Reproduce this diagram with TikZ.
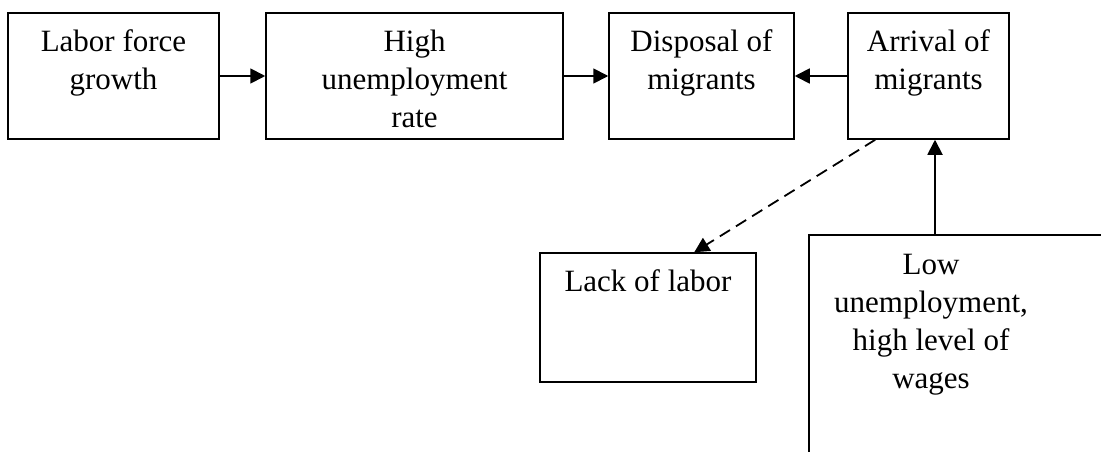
\documentclass[tikz,border=0pt]{standalone}
\usepackage{fontspec}
\setmainfont{Liberation Serif}
\usetikzlibrary{arrows.meta,calc}
\tikzset{
  box/.style={draw, line width=1.5pt, inner sep=0pt, rectangle},
  lbl/.style={anchor=base, align=flush center, text width=250pt, inner sep=0pt,
              font=\fontsize{31}{38}\selectfont},
  arr/.style={line width=1.8pt, -{Triangle[length=15pt,width=15pt]}},
  dasharr/.style={arr, dash pattern=on 12pt off 7pt}
}
\begin{document}
\begin{tikzpicture}[x=1pt,y=-1pt]
\useasboundingbox (0,0) rectangle (1101,452);
\clip (0,0) rectangle (1101,452);
% boxes
\node[box, minimum width=211pt, minimum height=126pt] (lab) at (113.5,76) {};
\node[box, minimum width=297pt, minimum height=126pt] (high) at (414.5,76) {};
\node[box, minimum width=185pt, minimum height=126pt] (disp) at (701.5,76) {};
\node[box, minimum width=161pt, minimum height=126pt] (arrv) at (928.5,76) {};
\node[box, minimum width=216pt, minimum height=129pt] (lack) at (648,317.5) {};
\node[box, minimum width=360pt, minimum height=265pt] (low) at (989,367.5) {};
% texts
\node[lbl] (tlab) at ($(lab.north)+(0,39)$) {Labor force\\growth};
\node[lbl] (thigh) at ($(high.north)+(0,39)$) {High\\unemployment\\rate};
\node[lbl] (tdisp) at ($(disp.north)+(0,39)$) {Disposal of\\migrants};
\node[lbl] (tarrv) at ($(arrv.north)+(0,39)$) {Arrival of\\migrants};
\node[lbl] (tlack) at ($(lack.north)+(0,39)$) {Lack of labor};
\coordinate (lowtxt) at (931,274);
\node[lbl] (tlow) at (lowtxt) {Low\\unemployment,\\high level of\\wages};
% connectors
\draw[arr] (lab.east) -- (high.west);
\draw[arr] (high.east) -- (disp.west);
\draw[arr] (arrv.west) -- (disp.east);
\draw[dasharr] ($(arrv.south west)+(28,0)$) -- ($(lack.north west)+(155,0)$);
\coordinate (vx) at (935,0);
\draw[arr] (low.north -| vx) -- (arrv.south -| vx);
\end{tikzpicture}
\end{document}
